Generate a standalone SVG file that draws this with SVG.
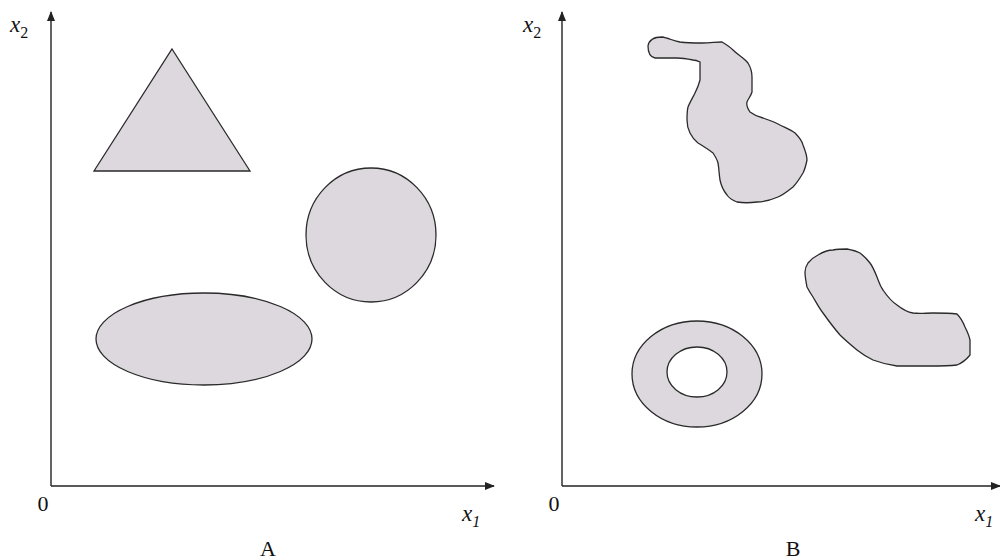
<svg xmlns="http://www.w3.org/2000/svg" width="1000" height="559" viewBox="0 0 1000 559">
<style>
.sh{fill:#dcd8dd;stroke:#2a2a2a;stroke-width:1.3}
.ax{stroke:#222;stroke-width:1.4;fill:none}
.t{font-family:"Liberation Serif",serif;fill:#111}
.v{font-style:italic;font-size:23px}
.s{font-size:16px}
</style>
<defs>
<marker id="ar" viewBox="0 0 10 10" refX="9" refY="5" markerWidth="10" markerHeight="10" markerUnits="userSpaceOnUse" orient="auto">
<path d="M0,1 L10,5 L0,9 Z" fill="#222"/>
</marker>
</defs>
<rect width="1000" height="559" fill="#fff"/>
<g id="connectors">
<path class="ax" d="M51,486 V12" marker-end="url(#ar)"/>
<path class="ax" d="M51,486 H494" marker-end="url(#ar)"/>
<path class="ax" d="M562,486 V12" marker-end="url(#ar)"/>
<path class="ax" d="M562,486 H1000" marker-end="url(#ar)"/>
</g>
<g id="labels">
<text class="t v" x="10" y="32">x<tspan class="s" font-style="normal" dy="6">2</tspan></text>
<text class="t" x="43" y="511" font-size="22" text-anchor="middle">0</text>
<text class="t v" x="462" y="521">x<tspan class="s" dy="6">1</tspan></text>
<text class="t" x="268" y="556" font-size="22" text-anchor="middle">A</text>
<text class="t v" x="523" y="32">x<tspan class="s" font-style="normal" dy="6">2</tspan></text>
<text class="t" x="554" y="511" font-size="22" text-anchor="middle">0</text>
<text class="t v" x="975" y="521">x<tspan class="s" dy="6">1</tspan></text>
<text class="t" x="793" y="556" font-size="22" text-anchor="middle">B</text>
</g>
<g id="triangle"><polygon class="sh" points="172,49 250,171 94,171"/></g>
<g id="circle"><ellipse class="sh" cx="371" cy="235" rx="65" ry="67"/></g>
<g id="ellipse"><ellipse class="sh" cx="204" cy="339" rx="108" ry="46"/></g>
<g id="ring"><path class="sh" fill-rule="evenodd" d="M632,374 a65,53 0 1,0 130,0 a65,53 0 1,0 -130,0 Z M667,372 a30,25 0 1,0 60,0 a30,25 0 1,0 -60,0 Z"/></g>
<g id="blob1"><path class="sh" d="M655,58 C650,57 648,52 648,46 C649,40 654,37 662,37 C668,38 674,41 680,42 C688,43 695,43 702,43 C710,43 716,42 722,42 C727,45 730,47 733,50 C738,55 744,58 748,63 C751,68 752,72 752,77 C752,82 752,87 752,92 C751,96 748,99 747,102 C746,106 748,109 750,112 C754,115 758,117 763,118 C769,120 775,122 780,125 C786,128 791,130 795,133 C799,137 802,141 803,145 C805,150 807,155 807,160 C806,165 805,169 803,173 C800,178 797,183 793,187 C788,191 783,195 778,197 C771,200 764,202 757,202 C750,203 743,203 737,202 C732,200 729,198 727,195 C723,190 721,185 720,180 C719,174 719,168 718,163 C717,159 715,156 713,153 C708,149 703,146 698,143 C694,140 692,137 690,133 C688,129 687,125 687,120 C687,116 687,111 688,107 C690,102 693,97 695,93 C697,89 699,84 700,80 C700,74 700,68 700,62 C698,61 696,60 693,60 C688,59 683,58 677,58 C670,58 662,58 655,58 Z"/></g>
<g id="blob2"><path class="sh" d="M805,272 C805,268 806,266 808,263 C811,259 814,257 818,255 C823,252 828,250 833,250 C838,249 842,249 847,249 C852,250 856,251 860,253 C864,256 867,259 870,263 C873,267 875,272 877,277 C879,282 880,286 883,290 C887,296 891,301 897,305 C902,309 907,312 913,313 C920,314 926,313 933,313 C941,313 949,313 957,314 C961,318 963,322 965,327 C967,331 969,335 970,340 C970,345 970,350 970,355 C966,360 962,363 957,365 C948,366 939,366 930,366 C919,366 908,366 897,366 C889,365 881,363 873,360 C867,357 862,354 857,350 C851,345 845,340 840,335 C834,328 828,320 823,313 C819,308 816,302 813,297 C811,294 809,291 807,287 C806,282 805,277 805,272 Z"/></g>
</svg>
